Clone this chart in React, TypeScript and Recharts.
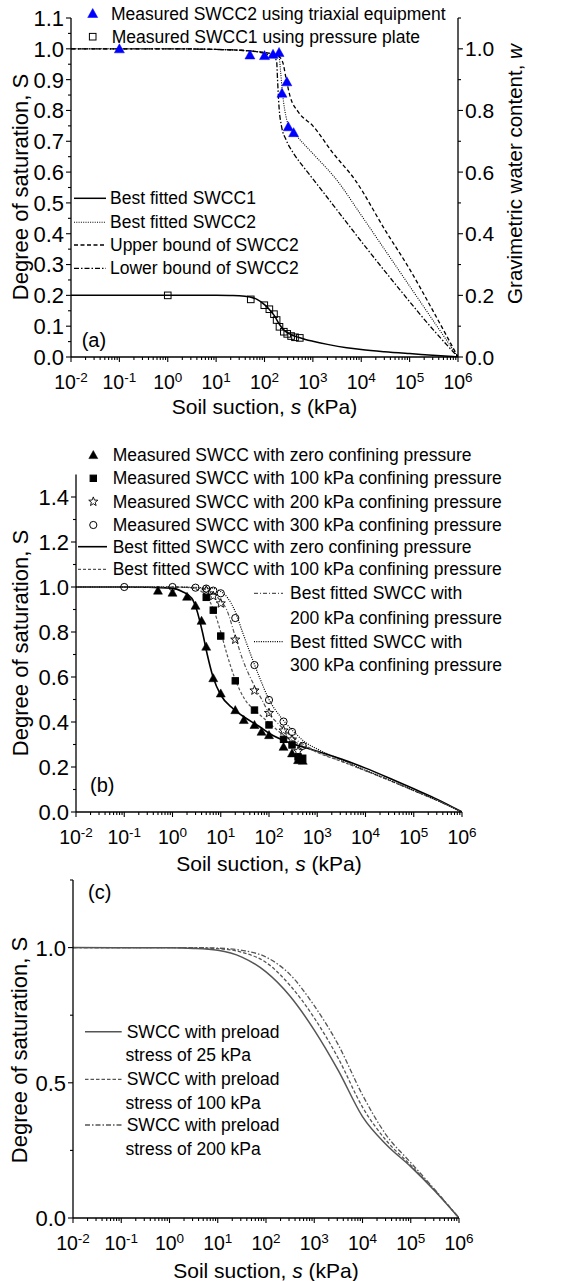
import React from 'react';
import { ComposedChart, Line, Scatter, XAxis, YAxis } from 'recharts';

const FONT = "'Liberation Sans', Arial, Helvetica, sans-serif";

// ---------- shared x axis ticks ----------
const xMajor = [0.01, 0.1, 1, 10, 100, 1000, 10000, 100000, 1000000];
const xMinorMult = [2, 3, 4, 5, 6, 7, 8, 9];
const xTicks: number[] = [];
xMajor.forEach((m, i) => {
  xTicks.push(m);
  if (i < xMajor.length - 1) xMinorMult.forEach((k) => xTicks.push(m * k));
});

// ---------- panel (a) ----------
const aTriX = [0.1, 50, 100, 150, 200, 230, 290, 310, 400];
const aTriY = [1.0, 0.98, 0.978, 0.982, 0.988, 0.856, 0.893, 0.747, 0.728];
const aSqX = [1, 52, 99, 126, 157, 178, 204, 251, 295, 355, 427, 537];
const aSqY = [0.2, 0.187, 0.168, 0.155, 0.139, 0.12, 0.098, 0.082, 0.075, 0.068, 0.064, 0.062];
const aFit1X = [0.01, 0.1, 1, 10, 20, 30, 50, 70, 100, 130, 160, 200, 250, 320, 400, 500, 700, 1000, 2000, 5000, 10000, 30000, 100000, 300000, 1000000];
const aFit1Y = [0.2, 0.2, 0.2, 0.2, 0.1995, 0.199, 0.195, 0.187, 0.17, 0.152, 0.134, 0.108, 0.088, 0.076, 0.069, 0.064, 0.057, 0.051, 0.041, 0.03, 0.024, 0.017, 0.011, 0.006, 0];
const aFit2X = [0.01, 1, 10, 50, 100, 150, 200, 214, 234, 263, 316, 447, 1000, 3090, 10000, 31600, 100000, 316000, 1000000];
const aFit2Y = [1.0, 1.0, 0.998, 0.993, 0.988, 0.982, 0.975, 0.93, 0.86, 0.8, 0.75, 0.72, 0.66, 0.575, 0.46, 0.345, 0.23, 0.115, 0];
const aUpX = [0.01, 1, 10, 50, 100, 158, 200, 240, 282, 339, 500, 1000, 2510, 7410, 31600, 100000, 316000, 1000000];
const aUpY = [1.0, 1.0, 0.998, 0.993, 0.988, 0.983, 0.975, 0.955, 0.9, 0.845, 0.795, 0.75, 0.665, 0.575, 0.41, 0.285, 0.145, 0];
const aLowX = [0.01, 1, 10, 50, 100, 158, 178, 186, 200, 224, 279, 398, 631, 1000, 2630, 12900, 63100, 309000, 1000000];
const aLowY = [1.0, 1.0, 0.998, 0.993, 0.985, 0.972, 0.96, 0.9, 0.81, 0.75, 0.705, 0.661, 0.618, 0.578, 0.493, 0.353, 0.218, 0.088, 0];
const aYTicks = [0, 0.05, 0.1, 0.15, 0.2, 0.25, 0.3, 0.35, 0.4, 0.45, 0.5, 0.55, 0.6, 0.65, 0.7, 0.75, 0.8, 0.85, 0.9, 0.95, 1.0, 1.05, 1.1];
const aYLabels = [0, 0.1, 0.2, 0.3, 0.4, 0.5, 0.6, 0.7, 0.8, 0.9, 1.0, 1.1];
const aRTicks = [0, 0.1, 0.2, 0.3, 0.4, 0.5, 0.6, 0.7, 0.8, 0.9, 1.0, 1.1];
const aRLabels = [0, 0.2, 0.4, 0.6, 0.8, 1.0];

// ---------- panel (b) ----------
const bTriX = [0.5, 1, 2, 3, 4, 5, 7, 10, 20, 30, 50, 70, 100, 200, 300, 400, 500];
const bTriY = [0.984, 0.975, 0.957, 0.917, 0.85, 0.735, 0.595, 0.527, 0.453, 0.409, 0.387, 0.357, 0.342, 0.29, 0.261, 0.231, 0.228];
const bSqX = [5, 7, 10, 20, 50, 100, 200, 300, 400, 500];
const bSqY = [0.954, 0.897, 0.782, 0.583, 0.453, 0.387, 0.323, 0.298, 0.245, 0.239];
const bStX = [5, 7, 10, 20, 50, 100, 200, 300, 400];
const bStY = [0.985, 0.96, 0.927, 0.766, 0.54, 0.44, 0.362, 0.322, 0.27];
const bCiX = [0.1, 1, 3, 5, 7, 10, 20, 50, 100, 200, 300, 500];
const bCiY = [1.0, 1.0, 0.997, 0.993, 0.984, 0.972, 0.862, 0.653, 0.498, 0.402, 0.356, 0.294];
const bFit0X = [0.01, 0.1, 1, 1.58, 2.51, 3.16, 4.17, 5.25, 6.92, 10, 17.8, 31.6, 63.1, 100, 251, 631, 1000, 3160, 10000, 31600, 100000, 316000, 1000000];
const bFit0Y = [1.0, 1.0, 0.995, 0.98, 0.95, 0.9, 0.8, 0.7, 0.6, 0.52, 0.46, 0.42, 0.38, 0.35, 0.31, 0.283, 0.27, 0.235, 0.195, 0.15, 0.103, 0.055, 0];
const bFit100X = [0.01, 1, 2, 3.16, 5.01, 7.08, 10, 13.5, 19.1, 31.6, 52.5, 95.5, 178, 355, 708, 1000, 3160, 10000, 31600, 100000, 316000, 1000000];
const bFit100Y = [1, 1, 0.998, 0.99, 0.96, 0.9, 0.8, 0.7, 0.6, 0.5, 0.45, 0.4, 0.35, 0.31, 0.28, 0.265, 0.225, 0.183, 0.14, 0.095, 0.05, 0];
const bFit200X = [0.01, 1, 3.16, 6.31, 8.91, 13.2, 20, 28.2, 50.1, 70.8, 100, 178, 316, 631, 1000, 3160, 10000, 31600, 100000, 316000, 1000000];
const bFit200Y = [1, 1, 0.995, 0.98, 0.95, 0.9, 0.78, 0.68, 0.56, 0.5, 0.44, 0.38, 0.33, 0.29, 0.268, 0.226, 0.184, 0.14, 0.095, 0.05, 0];
const bFit300X = [0.01, 1, 3.16, 6.31, 10, 14.1, 19.1, 28.2, 41.7, 63.1, 100, 178, 316, 562, 1000, 3160, 10000, 31600, 100000, 316000, 1000000];
const bFit300Y = [1, 1, 0.998, 0.995, 0.98, 0.95, 0.9, 0.8, 0.7, 0.6, 0.5, 0.42, 0.36, 0.31, 0.28, 0.232, 0.186, 0.142, 0.096, 0.05, 0];
const bYTicks = [0, 0.1, 0.2, 0.3, 0.4, 0.5, 0.6, 0.7, 0.8, 0.9, 1.0, 1.1, 1.2, 1.3, 1.4];
const bYLabels = [0, 0.2, 0.4, 0.6, 0.8, 1.0, 1.2, 1.4];

// ---------- panel (c) ----------
const cX = [0.01, 1, 3.16, 10, 31.6, 100, 316, 1000, 3160, 10000, 31600, 100000, 316000, 1000000];
const c25Y = [1, 0.999, 0.997, 0.99, 0.965, 0.91, 0.82, 0.695, 0.545, 0.375, 0.27, 0.19, 0.1, 0];
const c100Y = [1, 1, 0.999, 0.996, 0.983, 0.945, 0.86, 0.74, 0.59, 0.41, 0.285, 0.195, 0.102, 0];
const c200Y = [1, 1, 1, 0.998, 0.99, 0.965, 0.9, 0.785, 0.64, 0.455, 0.305, 0.205, 0.105, 0];
const cYTicks = [0, 0.25, 0.5, 0.75, 1.0, 1.25];
const cYLabels = [0, 0.5, 1.0];

const zip = (xs: number[], ys: number[]) => xs.map((x, i) => ({ x, y: ys[i] }));

// ---------- ticks ----------
const XTick = (props: any) => {
  const { x, y, payload } = props;
  const v = payload.value as number;
  const lg = Math.log10(v);
  const e = Math.round(lg);
  const major = Math.abs(lg - e) < 1e-6;
  return (
    <g>
      <line x1={x} x2={x} y1={y} y2={y + (major ? 5 : 3)} stroke="#000" strokeWidth={1.1} />
      {major && (
        <text x={x} y={y + 32} textAnchor="middle" fontFamily={FONT} fontSize={19.5} fill="#000">
          10<tspan fontSize={13.5} dy={-7}>{e}</tspan>
        </text>
      )}
    </g>
  );
};

const makeYTick = (labels: number[], side: 'left' | 'right') => (props: any) => {
  const { x, y, payload } = props;
  const v = payload.value as number;
  const major = labels.some((l) => Math.abs(l - v) < 1e-9);
  const s = side === 'left' ? -1 : 1;
  return (
    <g>
      <line x1={x} x2={x + s * (major ? 5 : 3)} y1={y} y2={y} stroke="#000" strokeWidth={1.1} />
      {major && (
        <text x={x + s * 7} y={y} dy="0.36em" textAnchor={side === 'left' ? 'end' : 'start'} fontFamily={FONT} fontSize={side === 'left' ? 22 : 21} fill="#000">
          {v.toFixed(1)}
        </text>
      )}
    </g>
  );
};

// ---------- markers ----------
const Tri = ({ cx, cy, fill, r = 5 }: any) => (
  <polygon points={`${cx},${cy - r} ${cx - r},${cy + r * 0.8} ${cx + r},${cy + r * 0.8}`} fill={fill} stroke={fill} strokeWidth={0.5} />
);
const Sq = ({ cx, cy, fill, r = 3.3 }: any) => (
  <rect x={cx - r} y={cy - r} width={2 * r} height={2 * r} fill={fill === 'none' ? 'none' : fill} stroke="#000" strokeWidth={1} />
);
const Circ = ({ cx, cy, r = 3.6 }: any) => <circle cx={cx} cy={cy} r={r} fill="none" stroke="#000" strokeWidth={1} />;
const Star = ({ cx, cy, r = 4.8 }: any) => {
  const pts: string[] = [];
  for (let i = 0; i < 10; i++) {
    const rr = i % 2 === 0 ? r : r * 0.42;
    const a = -Math.PI / 2 + (i * Math.PI) / 5;
    pts.push(`${cx + rr * Math.cos(a)},${cy + rr * Math.sin(a)}`);
  }
  return <polygon points={pts.join(' ')} fill="none" stroke="#000" strokeWidth={0.9} />;
};

const axisLine = { stroke: '#000', strokeWidth: 1.3 };

const xAxisProps = {
  dataKey: 'x',
  type: 'number' as const,
  scale: 'log' as const,
  domain: [0.01, 1000000],
  ticks: xTicks,
  interval: 0,
  tick: XTick,
  tickLine: false,
  tickSize: 0,
  tickMargin: 0,
  axisLine,
  allowDataOverflow: true,
};

const ChartA = () => (
  <ComposedChart width={567} height={420} margin={{ top: 18, right: 0, bottom: 0, left: 0 }}>
    <XAxis {...xAxisProps} height={63} />
    <YAxis yAxisId="left" dataKey="y" type="number" domain={[0, 1.1]} ticks={aYTicks} interval={0} tick={makeYTick(aYLabels, 'left')} tickLine={false} tickSize={0} tickMargin={0} axisLine={axisLine} width={71} allowDataOverflow />
    <YAxis yAxisId="right" orientation="right" dataKey="y" type="number" domain={[0, 1.1]} ticks={aRTicks} interval={0} tick={makeYTick(aRLabels, 'right')} tickLine={false} tickSize={0} tickMargin={0} axisLine={axisLine} width={109} allowDataOverflow />
    <Line yAxisId="right" data={zip(aFit1X, aFit1Y)} dataKey="y" type="monotone" stroke="#000" strokeWidth={1.5} dot={false} isAnimationActive={false} />
    <Line yAxisId="left" data={zip(aFit2X, aFit2Y)} dataKey="y" type="monotone" stroke="#000" strokeWidth={1.1} strokeDasharray="1 1.3" dot={false} isAnimationActive={false} />
    <Line yAxisId="left" data={zip(aUpX, aUpY)} dataKey="y" type="monotone" stroke="#000" strokeWidth={1.3} strokeDasharray="4 2.5" dot={false} isAnimationActive={false} />
    <Line yAxisId="left" data={zip(aLowX, aLowY)} dataKey="y" type="monotone" stroke="#000" strokeWidth={1.3} strokeDasharray="5 2 1.5 2" dot={false} isAnimationActive={false} />
    <Scatter yAxisId="right" data={zip(aSqX, aSqY)} dataKey="y" shape={(p: any) => <Sq cx={p.cx} cy={p.cy} fill="none" />} isAnimationActive={false} />
    <Scatter yAxisId="left" data={zip(aTriX, aTriY)} dataKey="y" shape={(p: any) => <Tri cx={p.cx} cy={p.cy} fill="#0000ff" />} isAnimationActive={false} />
  </ComposedChart>
);

const ChartB = () => (
  <ComposedChart width={567} height={430} margin={{ top: 34.5, right: 105, bottom: 0, left: 0 }}>
    <XAxis {...xAxisProps} height={58} />
    <YAxis dataKey="y" type="number" domain={[0, 1.5]} ticks={bYTicks} interval={0} tick={makeYTick(bYLabels, 'left')} tickLine={false} tickSize={0} tickMargin={0} axisLine={axisLine} width={76} allowDataOverflow />
    <Line data={zip(bFit0X, bFit0Y)} dataKey="y" type="monotone" stroke="#000" strokeWidth={1.6} dot={false} isAnimationActive={false} />
    <Line data={zip(bFit100X, bFit100Y)} dataKey="y" type="monotone" stroke="#555" strokeWidth={1.2} strokeDasharray="3 2" dot={false} isAnimationActive={false} />
    <Line data={zip(bFit200X, bFit200Y)} dataKey="y" type="monotone" stroke="#555" strokeWidth={1.2} strokeDasharray="4 2 1 2" dot={false} isAnimationActive={false} />
    <Line data={zip(bFit300X, bFit300Y)} dataKey="y" type="monotone" stroke="#000" strokeWidth={1.2} strokeDasharray="1 1.3" dot={false} isAnimationActive={false} />
    <Scatter data={zip(bTriX, bTriY)} dataKey="y" shape={(p: any) => <Tri cx={p.cx} cy={p.cy} fill="#000" r={4.5} />} isAnimationActive={false} />
    <Scatter data={zip(bSqX, bSqY)} dataKey="y" shape={(p: any) => <Sq cx={p.cx} cy={p.cy} fill="#000" r={3.2} />} isAnimationActive={false} />
    <Scatter data={zip(bStX, bStY)} dataKey="y" shape={(p: any) => <Star cx={p.cx} cy={p.cy} />} isAnimationActive={false} />
    <Scatter data={zip(bCiX, bCiY)} dataKey="y" shape={(p: any) => <Circ cx={p.cx} cy={p.cy} />} isAnimationActive={false} />
  </ComposedChart>
);

const ChartC = () => (
  <ComposedChart width={567} height={411} margin={{ top: 10, right: 108, bottom: 0, left: 0 }}>
    <XAxis {...xAxisProps} height={63} />
    <YAxis dataKey="y" type="number" domain={[0, 1.25]} ticks={cYTicks} interval={0} tick={makeYTick(cYLabels, 'left')} tickLine={false} tickSize={0} tickMargin={0} axisLine={axisLine} width={73} allowDataOverflow />
    <Line data={zip(cX, c25Y)} dataKey="y" type="monotone" stroke="#555" strokeWidth={1.5} dot={false} isAnimationActive={false} />
    <Line data={zip(cX, c100Y)} dataKey="y" type="monotone" stroke="#555" strokeWidth={1.3} strokeDasharray="3.5 2" dot={false} isAnimationActive={false} />
    <Line data={zip(cX, c200Y)} dataKey="y" type="monotone" stroke="#555" strokeWidth={1.3} strokeDasharray="5 2 1.5 2" dot={false} isAnimationActive={false} />
  </ComposedChart>
);

const T = (p: any) => (
  <text fontFamily={FONT} fontSize={17.5} fill="#000" dominantBaseline="central" {...p} />
);

const XTitle = ({ x, y }: any) => (
  <text x={x} y={y} textAnchor="middle" dominantBaseline="central" fontFamily={FONT} fontSize={21} fill="#000">
    Soil suction, <tspan fontStyle="italic">s</tspan> (kPa)
  </text>
);
const YTitle = ({ x, y, size = 22, children }: any) => (
  <text x={x} y={y} transform={`rotate(-90 ${x} ${y})`} textAnchor="middle" dominantBaseline="central" fontFamily={FONT} fontSize={size} fill="#000">
    {children}
  </text>
);

const Overlay = () => (
  <svg width={567} height={1281} style={{ position: 'absolute', left: 0, top: 0, pointerEvents: 'none' }}>
    {/* panel (a) */}
    <Tri cx={92.7} cy={13.5} fill="#0000ff" />
    <T x={111} y={13.5}>Measured SWCC2 using triaxial equipment</T>
    <Sq cx={92.7} cy={36.7} fill="none" />
    <T x={111.7} y={36.7}>Measured SWCC1 using pressure plate</T>
    <line x1={74} x2={106} y1={198.3} y2={198.3} stroke="#000" strokeWidth={1.5} />
    <T x={110} y={198.3}>Best fitted SWCC1</T>
    <line x1={74} x2={106} y1={222.3} y2={222.3} stroke="#000" strokeWidth={1.1} strokeDasharray="1 1.3" />
    <T x={110} y={222.3}>Best fitted SWCC2</T>
    <line x1={74} x2={106} y1={245} y2={245} stroke="#000" strokeWidth={1.3} strokeDasharray="4 2.5" />
    <T x={110} y={245}>Upper bound of SWCC2</T>
    <line x1={74} x2={106} y1={268.3} y2={268.3} stroke="#000" strokeWidth={1.3} strokeDasharray="5 2 1.5 2" />
    <T x={110} y={268.3}>Lower bound of SWCC2</T>
    <text x={81.7} y={340} dominantBaseline="central" fontFamily={FONT} fontSize={20} fill="#000">(a)</text>
    <XTitle x={264.5} y={406} />
    <YTitle x={20} y={187}>Degree of saturation, S</YTitle>
    <YTitle x={514} y={174} size={20.5}>Gravimetric water content, <tspan fontStyle="italic">w</tspan></YTitle>

    {/* panel (b) */}
    <Tri cx={93.3} cy={455} fill="#000" r={4.5} />
    <T x={112.7} y={455}>Measured SWCC with zero confining pressure</T>
    <Sq cx={93.3} cy={478.3} fill="#000" r={3.2} />
    <T x={112.7} y={478.3}>Measured SWCC with 100 kPa confining pressure</T>
    <Star cx={93.3} cy={501.7} />
    <T x={112.7} y={501.7}>Measured SWCC with 200 kPa confining pressure</T>
    <Circ cx={93.3} cy={525} />
    <T x={112.7} y={525}>Measured SWCC with 300 kPa confining pressure</T>
    <line x1={78} x2={107} y1={546.7} y2={546.7} stroke="#000" strokeWidth={1.6} />
    <T x={112.7} y={546.7}>Best fitted SWCC with zero confining pressure</T>
    <line x1={78} x2={107} y1={569.3} y2={569.3} stroke="#555" strokeWidth={1.2} strokeDasharray="3 2" />
    <T x={112.7} y={569.3}>Best fitted SWCC with 100 kPa confining pressure</T>
    <line x1={254} x2={283} y1={593.3} y2={593.3} stroke="#555" strokeWidth={1.2} strokeDasharray="4 2 1 2" />
    <T x={290} y={593.3}>Best fitted SWCC with</T>
    <T x={290} y={618.3}>200 kPa confining pressure</T>
    <line x1={254} x2={283} y1={641.7} y2={641.7} stroke="#000" strokeWidth={1.2} strokeDasharray="1 1.3" />
    <T x={290} y={641.7}>Best fitted SWCC with</T>
    <T x={290} y={665}>300 kPa confining pressure</T>
    <text x={90} y={785} dominantBaseline="central" fontFamily={FONT} fontSize={20} fill="#000">(b)</text>
    <XTitle x={269} y={863} />
    <YTitle x={20} y={643}>Degree of saturation, S</YTitle>

    {/* panel (c) */}
    <text x={88} y={892} dominantBaseline="central" fontFamily={FONT} fontSize={20} fill="#000">(c)</text>
    <line x1={85} x2={121.7} y1={1031.7} y2={1031.7} stroke="#555" strokeWidth={1.5} />
    <T x={126.7} y={1031.7}>SWCC with preload</T>
    <T x={125.5} y={1055}>stress of 25 kPa</T>
    <line x1={85} x2={121.7} y1={1079.3} y2={1079.3} stroke="#555" strokeWidth={1.3} strokeDasharray="3.5 2" />
    <T x={126.7} y={1079.3}>SWCC with preload</T>
    <T x={125.5} y={1103}>stress of 100 kPa</T>
    <line x1={85} x2={121.7} y1={1125} y2={1125} stroke="#555" strokeWidth={1.3} strokeDasharray="5 2 1.5 2" />
    <T x={126.7} y={1125}>SWCC with preload</T>
    <T x={125.5} y={1149.3}>stress of 200 kPa</T>
    <XTitle x={266} y={1270} />
    <YTitle x={19} y={1050}>Degree of saturation, S</YTitle>
  </svg>
);

export default function App() {
  return (
    <div style={{ position: 'absolute', left: 0, top: 0, width: 567, height: 1281, background: '#fff', overflow: 'hidden' }}>
      <div style={{ position: 'absolute', left: 0, top: 0 }}>
        <ChartA />
      </div>
      <div style={{ position: 'absolute', left: 0, top: 440 }}>
        <ChartB />
      </div>
      <div style={{ position: 'absolute', left: 0, top: 870 }}>
        <ChartC />
      </div>
      <Overlay />
    </div>
  );
}
